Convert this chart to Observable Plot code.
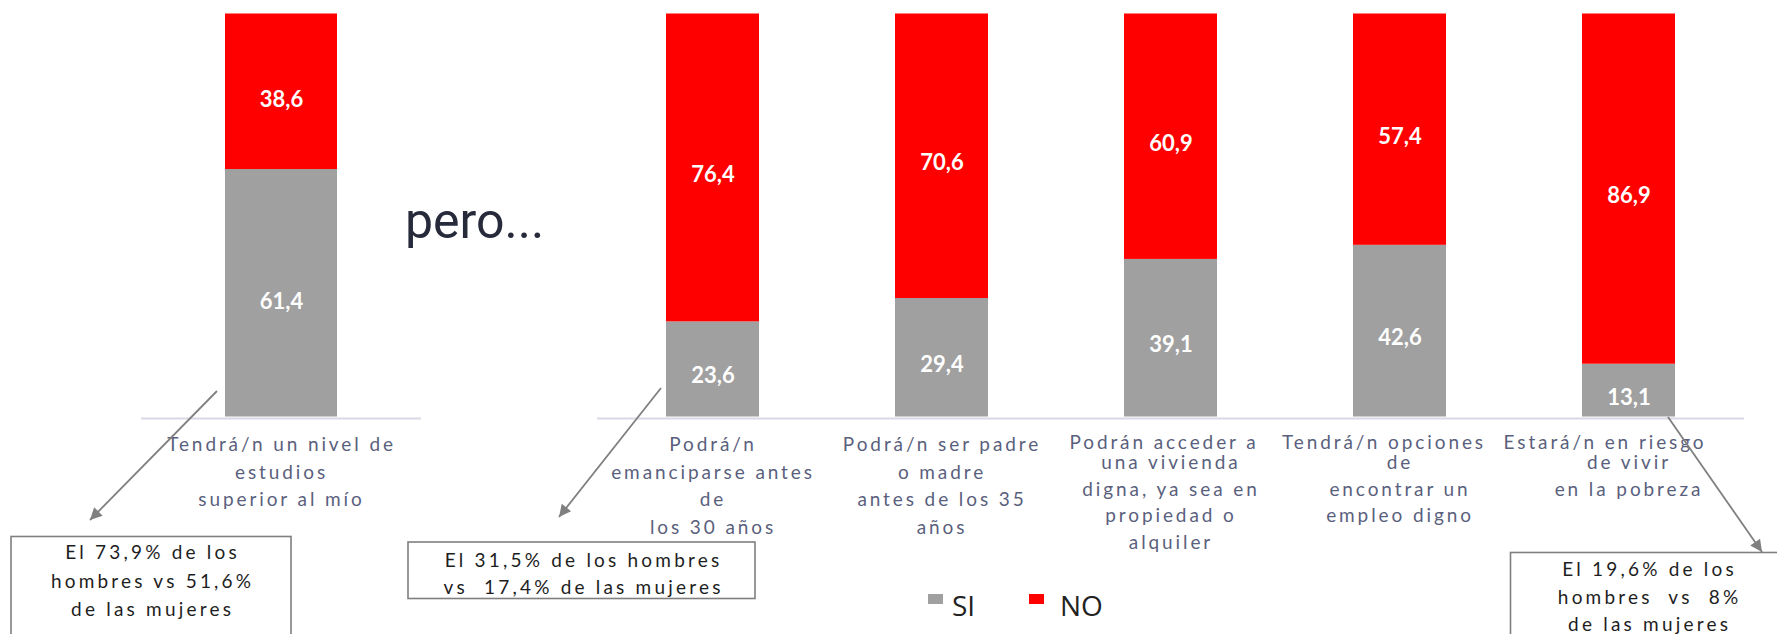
<!DOCTYPE html>
<html>
<head>
<meta charset="utf-8">
<script src="https://cdn.jsdelivr.net/npm/d3@7"></script>
<script src="https://cdn.jsdelivr.net/npm/@observablehq/plot@0.6"></script>
<style>
  html, body { margin: 0; padding: 0; background: #fff; }
  #page { position: relative; width: 1777px; height: 634px; overflow: hidden; background: #fff; }
  #page > svg, #page > figure { position: absolute; top: 0; margin: 0; }
  g[aria-description="ticklabel"] text { letter-spacing: 2.9px; }
  .note text { letter-spacing: 3.2px; }
</style>
</head>
<body>
<div id="page"></div>
<script>
// ---------- data ----------
const series = ["SI", "NO"];
const seriesColors = ["#a0a0a0", "#ff0000"];

const categories1 = ["Tendrá/n un nivel de estudios superior al mío"];
const siValues1 = [61.4];
const noValues1 = [38.6];
const labelLines1 = [["Tendrá/n un nivel de", "estudios", "superior al mío"]];

const categories2 = [
  "Podrá/n emanciparse antes de los 30 años",
  "Podrá/n ser padre o madre antes de los 35 años",
  "Podrán acceder a una vivienda digna, ya sea en propiedad o alquiler",
  "Tendrá/n opciones de encontrar un empleo digno",
  "Estará/n en riesgo de vivir en la pobreza"
];
const siValues2 = [23.6, 29.4, 39.1, 42.6, 13.1];
const noValues2 = [76.4, 70.6, 60.9, 57.4, 86.9];
const labelLines2 = [
  ["Podrá/n", "emanciparse antes", "de", "los 30 años"],
  ["Podrá/n ser padre", "o madre", "antes de los 35", "años"],
  ["Podrán acceder a", "una vivienda", "digna, ya sea en", "propiedad o", "alquiler"],
  ["Tendrá/n opciones", "de", "encontrar un", "empleo digno"],
  ["Estará/n en riesgo", "de vivir", "en la pobreza"]
];

const notes = [
  ["El 73,9% de los", "hombres vs 51,6%", "de las mujeres"],
  ["El 31,5% de los hombres", "vs  17,4% de las mujeres"],
  ["El 19,6% de los", "hombres  vs  8%", "de las mujeres"]
];
const interlude = "pero...";

// ---------- helpers ----------
const fmt = v => v.toFixed(1).replace(".", ",");

function rowsFor(cats, si, no) {
  const rows = [];
  cats.forEach((c, i) => {
    rows.push({cat: c, series: "SI", value: si[i]});
    rows.push({cat: c, series: "NO", value: no[i]});
  });
  return rows;
}

// layout of the wrapped category labels (baseline offsets below the axis, px)
const regularOffsets = [33.5, 61.5, 89, 116.5, 144];
const tightOffsets = [31.5, 52, 78.5, 105, 131.5];
// horizontal nudge of the first line of the tightly wrapped labels (px)
const firstLineShift = [-7, -16, -24];

function labelMarks(cats, lines, tightFrom) {
  const entries = [];
  cats.forEach((c, ci) => {
    const tight = ci >= tightFrom;
    const offs = tight ? tightOffsets : regularOffsets;
    lines[ci].forEach((t, li) => entries.push({
      cat: c, line: t, off: offs[li],
      shift: tight && li === 0 ? firstLineShift[ci - tightFrom] : 0
    }));
  });
  const groups = d3.group(entries, d => d.off + "|" + d.shift);
  return Array.from(groups, ([, rows]) =>
    Plot.text(rows, {
      x: "cat", text: "line", frameAnchor: "bottom", lineAnchor: "bottom",
      dy: rows[0].off, dx: rows[0].shift, fill: "#5a5f7d", fontSize: 19, fontFamily: "Lato",
      ariaDescription: "ticklabel"
    })
  );
}

function chart(cats, si, no, lines, opts) {
  const rows = rowsFor(cats, si, no);
  return Plot.plot({
    width: opts.width,
    height: 634,
    marginLeft: opts.marginLeft,
    marginRight: opts.marginRight,
    marginTop: 13.5,
    marginBottom: 217.5,
    x: {domain: cats, paddingInner: opts.pad, paddingOuter: opts.pad / 2, axis: null},
    y: {domain: [0, 100], axis: null},
    color: {domain: series, range: seriesColors},
    style: {fontFamily: "Lato", background: "transparent", overflow: "visible"},
    marks: [
      Plot.ruleY([0], {stroke: "#d8d9e3", strokeWidth: 2, dy: 1.5}),
      Plot.barY(rows, {x: "cat", y: "value", fill: "series", order: series}),
      Plot.text(rows, Plot.stackY({
        x: "cat", y: "value", z: "series", order: series,
        text: d => fmt(d.value), fill: "white", fontWeight: "bold",
        fontSize: 22, fontFamily: "Lato", dy: opts.labelDy
      })),
      ...labelMarks(cats, lines, opts.tightFrom)
    ]
  });
}

const page = document.getElementById("page");

const c1 = chart(categories1, siValues1, noValues1, labelLines1,
  {width: 560, marginLeft: 141, marginRight: 139, pad: 0.6, labelDy: 8.5, tightFrom: 99});
c1.style.left = "0px";
page.appendChild(c1);

const c2 = chart(categories2, siValues2, noValues2, labelLines2,
  {width: 1217, marginLeft: 37, marginRight: 33, pad: 0.595, labelDy: 7, tightFrom: 2});
c2.style.left = "560px";
page.appendChild(c2);

// ---------- annotations overlay ----------
const svg = d3.select(page).append("svg")
  .attr("width", 1777).attr("height", 634)
  .style("left", "0px")
  .attr("font-family", "Lato");

svg.append("defs").append("marker")
  .attr("id", "ah").attr("viewBox", "0 0 10 10")
  .attr("refX", 10).attr("refY", 5)
  .attr("markerWidth", 15).attr("markerHeight", 12)
  .attr("markerUnits", "userSpaceOnUse")
  .attr("orient", "auto")
  .append("path").attr("d", "M0,0 L10,5 L0,10 Z").attr("fill", "#808080");

// interlude text
svg.append("text").attr("x", 405).attr("y", 238)
  .attr("font-family", "Roboto").attr("font-size", 50).attr("fill", "#262a3a")
  .text(interlude);

// callout boxes
const boxes = [
  {x: 11, y: 536.5, w: 280, h: 200, cx: 151, base: 559, lh: 28.5},
  {x: 408, y: 542, w: 347, h: 56.5, cx: 582, base: 566.5, lh: 27},
  {x: 1510.5, y: 552.5, w: 280, h: 200, cx: 1648, base: 576, lh: 27.5}
];
boxes.forEach((b, i) => {
  const g = svg.append("g").attr("class", "note");
  g.append("rect").attr("x", b.x).attr("y", b.y).attr("width", b.w).attr("height", b.h)
    .attr("fill", "white").attr("stroke", "#7f7f7f").attr("stroke-width", 1.6);
  notes[i].forEach((t, li) => {
    g.append("text").attr("x", b.cx + 1.6).attr("y", b.base + li * b.lh)
      .attr("text-anchor", "middle").attr("font-size", 19).attr("fill", "#1e1e1e")
      .attr("xml:space", "preserve").style("white-space", "pre")
      .text(t);
  });
});

// arrows
const arrows = [
  [217, 391, 90, 520],
  [661, 388, 559, 517],
  [1668, 417, 1762, 552]
];
arrows.forEach(([x1, y1, x2, y2]) => {
  svg.append("line").attr("x1", x1).attr("y1", y1).attr("x2", x2).attr("y2", y2)
    .attr("stroke", "#808080").attr("stroke-width", 1.8)
    .attr("marker-end", "url(#ah)");
});

// legend
const leg = svg.append("g").attr("font-family", "Open Sans").attr("font-size", 28).attr("fill", "#222");
const legItems = [{x: 928, tx: 952}, {x: 1029, tx: 1060}];
series.forEach((s, i) => {
  leg.append("rect").attr("x", legItems[i].x).attr("y", 594).attr("width", 15).attr("height", 10)
    .attr("fill", seriesColors[i]);
  leg.append("text").attr("x", legItems[i].tx).attr("y", 616).text(s);
});
</script>
</body>
</html>
